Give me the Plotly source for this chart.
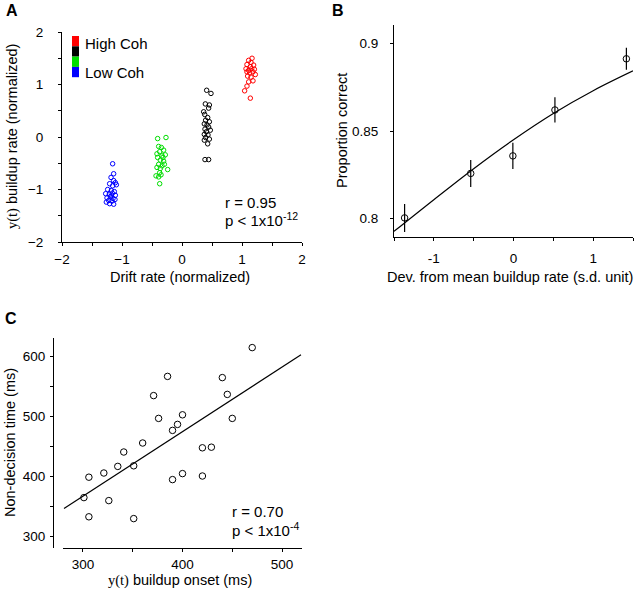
import plotly.graph_objects as go

# ---------------- Panel A data ----------------
blue_x = [-1.156, -1.139, -1.183, -1.111, -1.206, -1.156, -1.094, -1.239, -1.178, -1.128,
          -1.272, -1.211, -1.161, -1.111, -1.25, -1.194, -1.15, -1.222, -1.167, -1.117,
          -1.206, -1.139, -1.261, -1.178, -1.139]
blue_y = [-0.51, -0.70, -0.77, -0.87, -0.89, -0.93, -0.91, -1.00, -1.02, -1.04,
          -1.08, -1.09, -1.07, -1.11, -1.16, -1.14, -1.17, -1.21, -1.22, -1.19,
          -1.27, -1.28, -1.24, -1.12, -0.83]
green_x = [-0.406, -0.267, -0.389, -0.344, -0.306, -0.372, -0.278, -0.333, -0.406, -0.361,
           -0.306, -0.389, -0.333, -0.417, -0.361, -0.239, -0.372, -0.433, -0.35, -0.389,
           -0.372, -0.317, -0.417, -0.294]
green_y = [-0.03, -0.01, -0.18, -0.20, -0.25, -0.28, -0.34, -0.36, -0.39, -0.44,
           -0.46, -0.52, -0.55, -0.58, -0.60, -0.62, -0.68, -0.74, -0.72, -0.76,
           -0.89, -0.39, -0.32, -0.52]
black_x = [0.411, 0.483, 0.389, 0.456, 0.444, 0.361, 0.378, 0.428, 0.394, 0.456,
           0.372, 0.417, 0.444, 0.383, 0.472, 0.406, 0.372, 0.433, 0.394, 0.456,
           0.372, 0.428, 0.383, 0.444]
black_y = [0.89, 0.83, 0.63, 0.61, 0.55, 0.48, 0.43, 0.37, 0.32, 0.29,
           0.25, 0.23, 0.19, 0.15, 0.13, 0.10, 0.05, 0.04, -0.01, -0.04,
           -0.06, -0.13, -0.43, -0.43]
red_x = [1.167, 1.111, 1.15, 1.083, 1.194, 1.139, 1.067, 1.161, 1.206, 1.111,
         1.183, 1.083, 1.128, 1.222, 1.094, 1.183, 1.111, 1.083, 1.044, 1.139, 1.15]
red_y = [1.50, 1.46, 1.42, 1.38, 1.37, 1.34, 1.30, 1.30, 1.29, 1.27,
         1.24, 1.24, 1.22, 1.19, 1.16, 1.07, 1.05, 0.97, 0.88, 0.74, 1.14]
a_colors = ["#ff0000", "#000000", "#00dd00", "#0000ff"]
a_legend = ["High Coh", "Low Coh"]
a_stats = ["r = 0.95", "p < 1x10<sup>-12</sup>"]
a_major = [-2, -1, 0, 1, 2]
a_major_text = ["\u22122", "\u22121", "0", "1", "2"]
a_minor = [-1.5, -0.5, 0.5, 1.5]

# ---------------- Panel B data ----------------
b_x = [-1.367, -0.537, -0.008, 0.52, 1.417]
b_y = [0.8004, 0.8258, 0.8358, 0.862, 0.8912]
b_err = [0.008, 0.0077, 0.0075, 0.0072, 0.0063]
b_fit_x = [-1.5, -1.0, -0.5, 0.0, 0.5, 1.0, 1.5]
b_fit_y = [0.7927, 0.8108, 0.8285, 0.8450, 0.8600, 0.8730, 0.8843]
b_xmajor = [-1, 0, 1]
b_xmajor_text = ["-1", "0", "1"]
b_xminor = [-1.5, -0.5, 0.5, 1.5]
b_ymajor = [0.8, 0.85, 0.9]
b_ymajor_text = ["0.8", "0.85", "0.9"]

# ---------------- Panel C data ----------------
c_x = [301, 306, 306, 321, 326, 335, 341, 351, 351, 360, 371, 376, 385, 390, 395,
       400, 390, 400, 420, 420, 429, 440, 445, 450, 470]
c_y = [364, 398, 332, 405, 359, 416, 440, 417, 329, 455, 534, 496, 566, 476, 486,
       502, 394, 404, 447, 400, 448, 564, 536, 496, 614]
c_fit_x = [281, 519]
c_fit_y = [346, 602]
c_stats = ["r = 0.70", "p < 1x10<sup>-4</sup>"]
c_xmajor = [300, 400, 500]
c_xminor = [350, 450]
c_ymajor = [300, 400, 500, 600]
c_yminor = [350, 450, 550]

FONT = "Liberation Sans, Arial, Helvetica, sans-serif"
SERIF = "Liberation Serif"
W, H = 640, 589
YT = '<span style="font-family:' + SERIF + '">y(t)</span>'


def px2x(p):
    return p / W


def px2y(p):
    return 1 - p / H


fig = go.Figure()

# Panel A scatter
for xs, ys, col in [(blue_x, blue_y, a_colors[3]), (green_x, green_y, a_colors[2]),
                    (black_x, black_y, a_colors[1]), (red_x, red_y, a_colors[0])]:
    fig.add_trace(go.Scatter(x=xs, y=ys, mode="markers", xaxis="x", yaxis="y",
                             marker=dict(symbol="circle-open", size=4.5, color=col,
                                         line=dict(width=1, color=col)),
                             showlegend=False, hoverinfo="skip"))

# Panel B
fig.add_trace(go.Scatter(x=b_fit_x, y=b_fit_y, mode="lines", xaxis="x2", yaxis="y2",
                         line=dict(color="black", width=1.2, shape="spline"),
                         showlegend=False))
fig.add_trace(go.Scatter(x=b_x, y=b_y, mode="markers", xaxis="x2", yaxis="y2",
                         marker=dict(symbol="circle-open", size=6.5, color="black",
                                     line=dict(width=1, color="black")),
                         error_y=dict(type="data", array=b_err, color="black",
                                      thickness=1.2, width=0),
                         showlegend=False))

# Panel C
fig.add_trace(go.Scatter(x=c_fit_x, y=c_fit_y, mode="lines", xaxis="x3", yaxis="y3",
                         line=dict(color="black", width=1.2), showlegend=False))
fig.add_trace(go.Scatter(x=c_x, y=c_y, mode="markers", xaxis="x3", yaxis="y3",
                         marker=dict(symbol="circle-open", size=6.5, color="black",
                                     line=dict(width=1, color="black")),
                         showlegend=False))

axis_common = dict(showgrid=False, zeroline=False, showline=True, linecolor="black",
                   linewidth=1, ticks="outside", ticklen=3, tickwidth=1, automargin=False,
                   tickcolor="black", tickfont=dict(family=FONT, size=13.5, color="black"))


def ticks(vals, labs, minor_vals):
    return dict(tickmode="array", tickvals=vals, ticktext=labs,
                minor=dict(tickmode="array", tickvals=minor_vals, ticks="outside",
                           ticklen=3, tickwidth=1, tickcolor="black", showgrid=False))


fig.update_layout(
    template="none",
    width=W, height=H, plot_bgcolor="white", paper_bgcolor="white",
    margin=dict(l=0, r=0, t=0, b=0, autoexpand=False),
    font=dict(family=FONT, size=13, color="black"),
    showlegend=False,
    xaxis=dict(axis_common, domain=[px2x(62), px2x(302)], range=[-2, 2], anchor="y",
               ticklabelstandoff=2, **ticks(a_major, a_major_text, a_minor)),
    yaxis=dict(axis_common, domain=[px2y(242), px2y(32)], range=[-2, 2], anchor="x",
               ticklabelstandoff=12, **ticks(a_major, a_major_text, a_minor)),
    xaxis2=dict(axis_common, domain=[px2x(394), px2x(633)], range=[-1.5, 1.5], anchor="y2",
                ticklabelstandoff=6, **ticks(b_xmajor, b_xmajor_text, b_xminor)),
    yaxis2=dict(axis_common, domain=[px2y(237), px2y(25)], range=[0.7895, 0.9105], anchor="x2",
                ticklabelstandoff=9, **ticks(b_ymajor, b_ymajor_text, [])),
    xaxis3=dict(axis_common, domain=[px2x(63), px2x(302)], range=[280, 520], anchor="y3",
                ticklabelstandoff=1,
                **ticks(c_xmajor, [str(v) for v in c_xmajor], c_xminor)),
    yaxis3=dict(axis_common, domain=[px2y(548), px2y(338)], range=[280, 630],
                anchor="free", position=px2x(53), ticklabelstandoff=2,
                **ticks(c_ymajor, [str(v) for v in c_ymajor], c_yminor)),
)


def note(text, x, y, size=14.5, angle=0, xanchor="center", bold=False):
    if bold:
        text = "<b>" + text + "</b>"
    fig.add_annotation(text=text, xref="paper", yref="paper", x=px2x(x), y=px2y(y),
                       xanchor=xanchor, yanchor="middle", showarrow=False, textangle=angle,
                       font=dict(family=FONT, size=size, color="black"))


# Axis titles
note("Drift rate (normalized)", 180, 277)
note(YT + " buildup rate (normalized)", 13, 137, angle=-90)
note("Dev. from mean buildup rate (s.d. unit)", 510, 277)
note("Proportion correct", 342, 131, angle=-90)
note(YT + " buildup onset (ms)", 180, 580)
note("Non-decision time (ms)", 10, 443, angle=-90)

# Panel letters
note("A", 4, 11, size=16, xanchor="left", bold=True)
note("B", 330, 11, size=16, xanchor="left", bold=True)
note("C", 3, 318, size=16, xanchor="left", bold=True)

# Stats text
note(a_stats[0], 223, 202, size=15, xanchor="left")
note(a_stats[1], 223, 220, size=15, xanchor="left")
note(c_stats[0], 230, 511, size=15, xanchor="left")
note(c_stats[1], 230, 529, size=15, xanchor="left")

# Legend patches in panel A
patch_top = 36
patch_h = 10.3
for i, col in enumerate(a_colors):
    fig.add_shape(type="rect", xref="paper", yref="paper",
                  x0=px2x(72), x1=px2x(79),
                  y0=px2y(patch_top + (i + 1) * patch_h), y1=px2y(patch_top + i * patch_h),
                  fillcolor=col, line=dict(width=0))
note(a_legend[0], 83, 43, size=15, xanchor="left")
note(a_legend[1], 83, 73, size=15, xanchor="left")

fig.write_html("out.html", config={"displayModeBar": False},
               post_script="document.body.style.margin='0';document.body.style.overflow='hidden';")
